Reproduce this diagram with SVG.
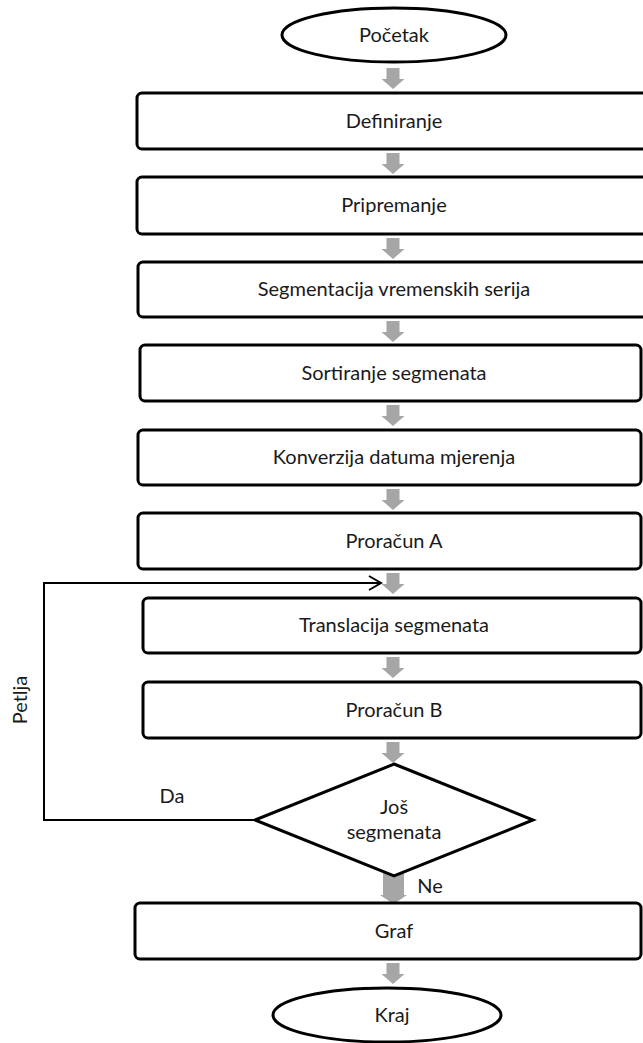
<svg xmlns="http://www.w3.org/2000/svg" width="643" height="1043" viewBox="0 0 643 1043">
<style>
.box{fill:#fff;stroke:#000;stroke-width:3}
.term{fill:#fff;stroke:#000;stroke-width:3}
.t{font-family:Lato,"Liberation Sans",sans-serif;font-size:20px;fill:#1a1a1a;text-anchor:middle}
.ga{fill:#a6a6a6;stroke:none}
.ln{fill:none;stroke:#000;stroke-width:2}
</style>
<defs>
<path id="arr" d="M-6.5,0 H6.5 V11 H11.5 L0,21 L-11.5,11 H-6.5 Z"/>
</defs>
<rect width="643" height="1043" fill="#fff"/>
<g id="connectors">
<use href="#arr" class="ga" x="393" y="68"/>
<use href="#arr" class="ga" x="393" y="153"/>
<use href="#arr" class="ga" x="393" y="238"/>
<use href="#arr" class="ga" x="393" y="321"/>
<use href="#arr" class="ga" x="393" y="405"/>
<use href="#arr" class="ga" x="393" y="489"/>
<use href="#arr" class="ga" x="393" y="573"/>
<use href="#arr" class="ga" x="393" y="657"/>
<use href="#arr" class="ga" x="393" y="742"/>
<path class="ga" d="M383,872 H404 V895 H407 L393.5,904 L380,895 H383 Z"/>
<use href="#arr" class="ga" x="393" y="963"/>
<polyline class="ln" points="255,820 44,820 44,583 381,583"/>
<polyline class="ln" points="369,576 381,583 369,590"/>
<text class="t" x="172" y="803">Da</text>
<text class="t" x="430" y="893">Ne</text>
<text class="t" transform="translate(27,700) rotate(-90)">Petlja</text>
</g>
<g id="n-start">
<ellipse class="term" cx="394" cy="35" rx="112" ry="27"/>
<text class="t" x="394" y="42">Početak</text>
</g>
<g id="n-definiranje">
<rect class="box" x="137" y="93" width="510" height="56" rx="5"/>
<text class="t" x="394" y="128">Definiranje</text>
</g>
<g id="n-pripremanje">
<rect class="box" x="137" y="177" width="510" height="57" rx="5"/>
<text class="t" x="394" y="212">Pripremanje</text>
</g>
<g id="n-segmentacija">
<rect class="box" x="138" y="262" width="509" height="55" rx="5"/>
<text class="t" x="394" y="296">Segmentacija vremenskih serija</text>
</g>
<g id="n-sortiranje">
<rect class="box" x="140" y="345" width="501" height="56" rx="5"/>
<text class="t" x="394" y="380">Sortiranje segmenata</text>
</g>
<g id="n-konverzija">
<rect class="box" x="138" y="430" width="503" height="55" rx="5"/>
<text class="t" x="394" y="464">Konverzija datuma mjerenja</text>
</g>
<g id="n-proracunA">
<rect class="box" x="138" y="513" width="503" height="56" rx="5"/>
<text class="t" x="394" y="548">Proračun A</text>
</g>
<g id="n-translacija">
<rect class="box" x="143" y="598" width="498" height="55" rx="5"/>
<text class="t" x="394" y="632">Translacija segmenata</text>
</g>
<g id="n-proracunB">
<rect class="box" x="143" y="682" width="498" height="56" rx="5"/>
<text class="t" x="394" y="717">Proračun B</text>
</g>
<g id="n-decision">
<polygon class="box" points="394,764 533,820 394,876 255,820"/>
<text class="t" x="394" y="814">Još</text>
<text class="t" x="394" y="839">segmenata</text>
</g>
<g id="n-graf">
<rect class="box" x="135" y="903" width="506" height="56" rx="5"/>
<text class="t" x="394" y="938">Graf</text>
</g>
<g id="n-kraj">
<ellipse class="term" cx="387" cy="1015" rx="114" ry="27"/>
<text class="t" x="392" y="1022">Kraj</text>
</g>
</svg>
